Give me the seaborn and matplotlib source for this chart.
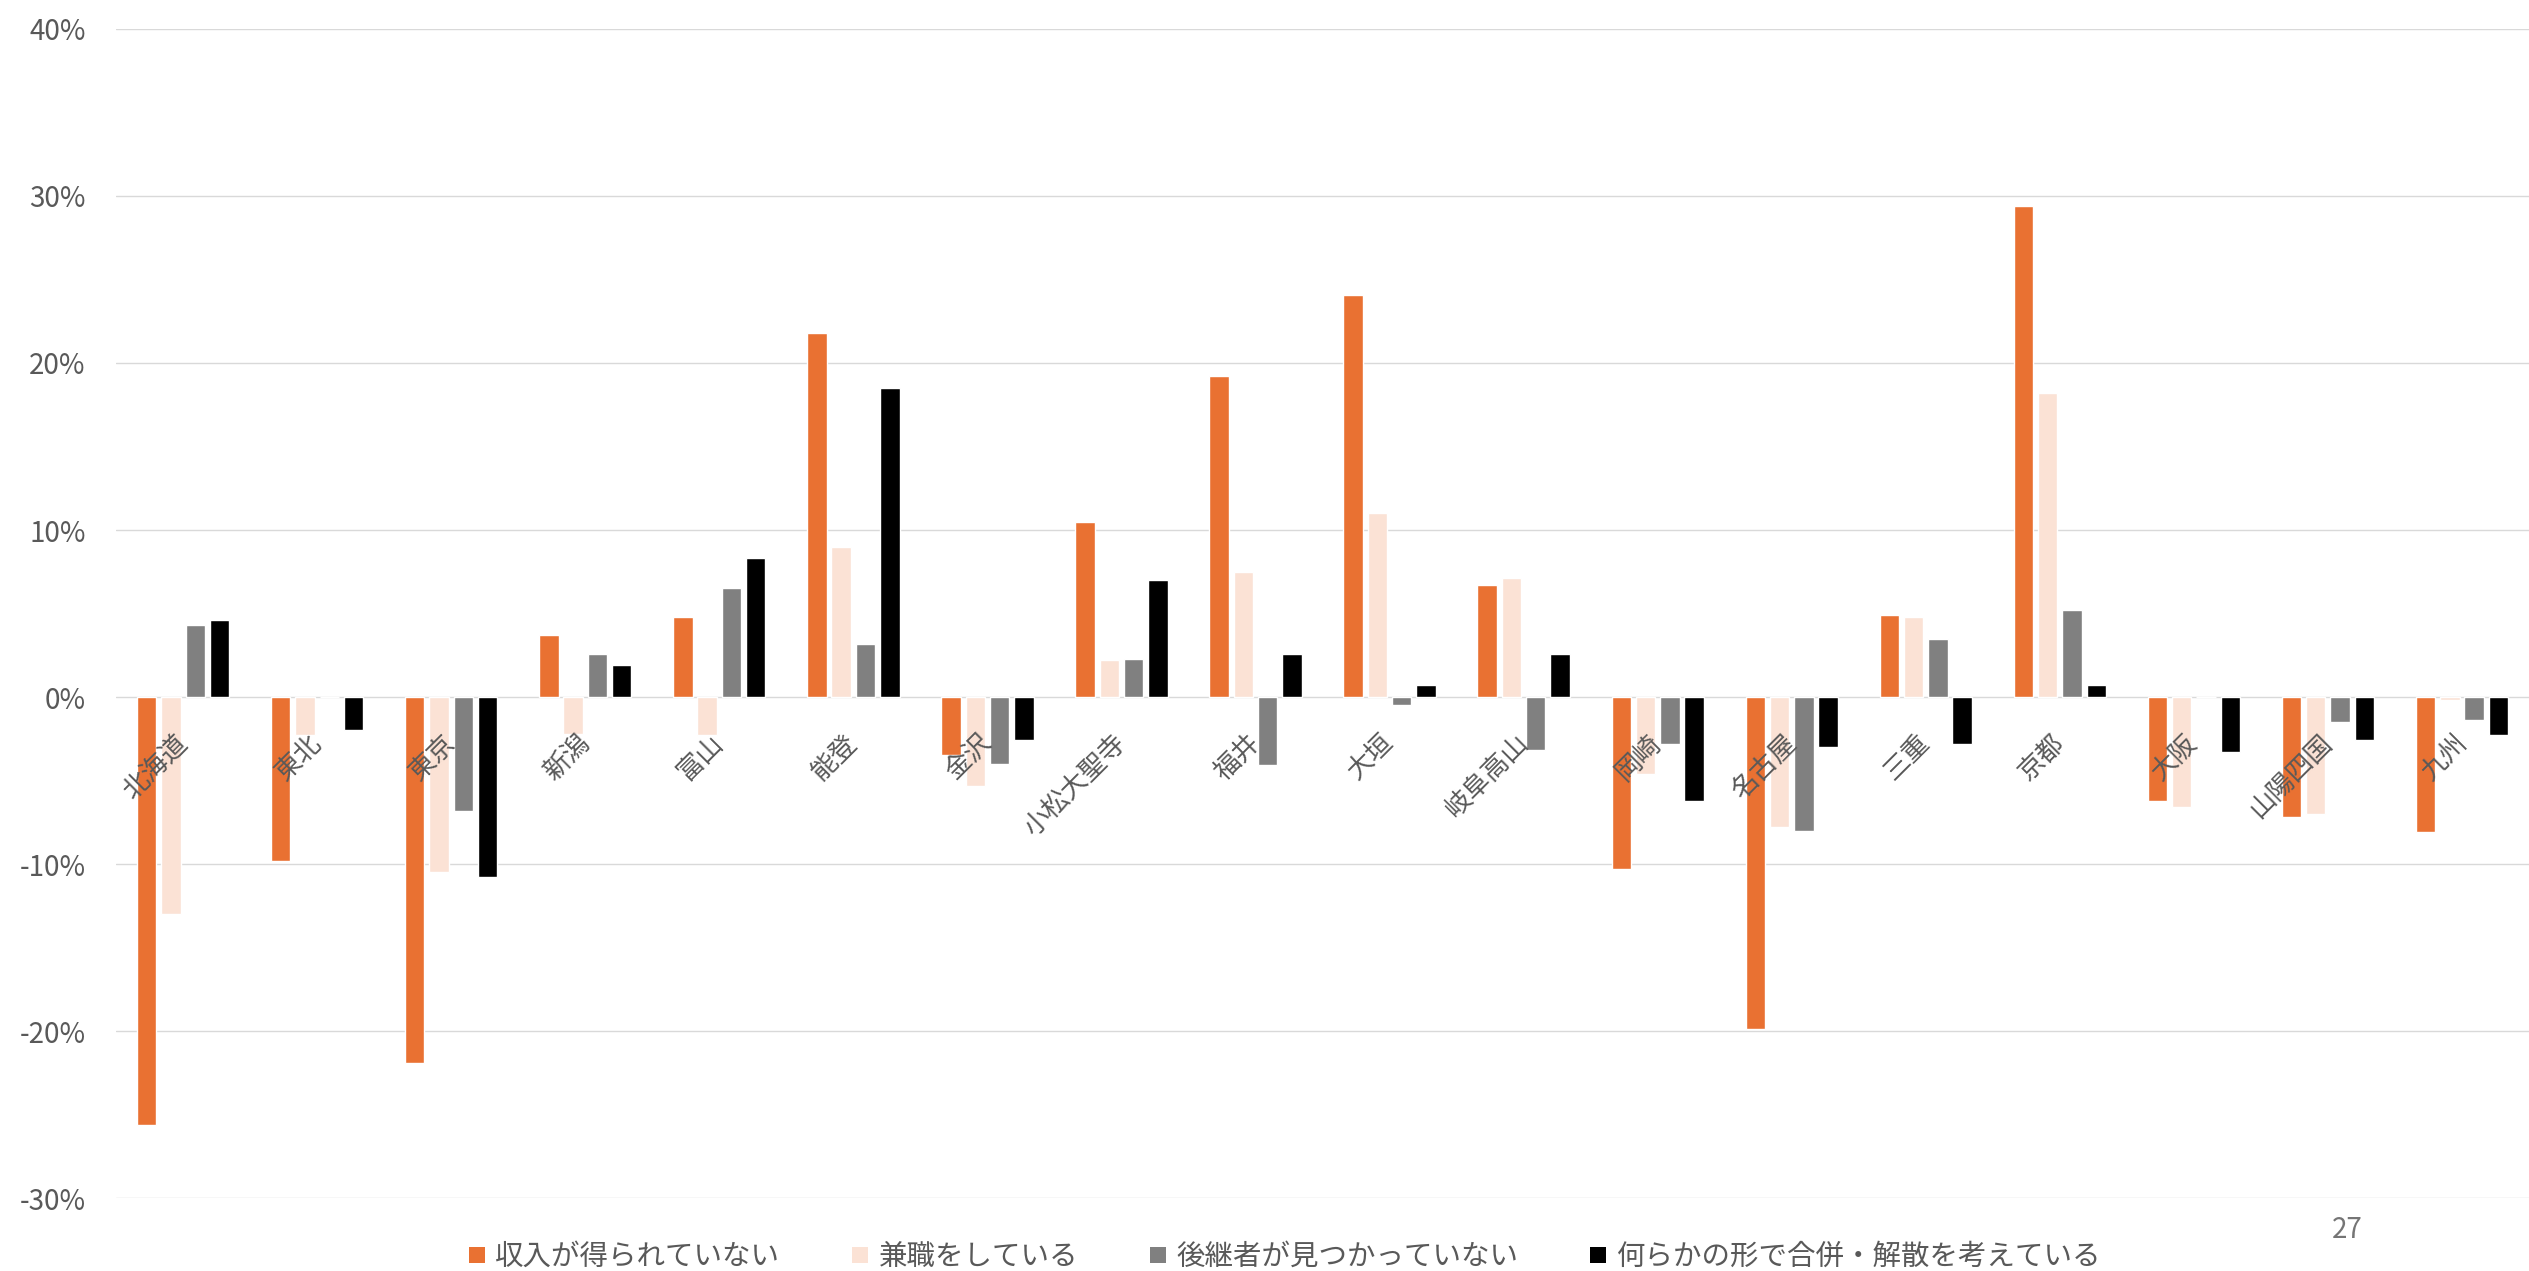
import matplotlib
matplotlib.use("Agg")
import pandas as pd
import numpy as np
import matplotlib.pyplot as plt
import seaborn as sns
from matplotlib.lines import Line2D
from matplotlib.ticker import FuncFormatter

# Data (percent)
regions = ["北海道", "東北", "東京", "新潟", "富山", "能登", "金沢", "小松大聖寺", "福井",
           "大垣", "岐阜高山", "岡崎", "名古屋", "三重", "京都", "大阪", "山陽四国", "九州"]
no_income = [-25.6, -9.8, -21.9, 3.7, 4.8, 21.8, -3.5, 10.5, 19.2,
             24.1, 6.7, -10.3, -19.9, 4.9, 29.4, -6.2, -7.2, -8.1]
side_job = [-13.0, -2.3, -10.5, -2.2, -2.3, 9.0, -5.3, 2.2, 7.5,
            11.0, 7.1, -4.6, -7.8, 4.8, 18.2, -6.6, -7.0, -0.2]
no_successor = [4.3, 0.0, -6.8, 2.6, 6.5, 3.2, -4.0, 2.3, -4.1,
                -0.5, -3.2, -2.8, -8.0, 3.5, 5.2, 0.0, -1.5, -1.4]
merge_dissolve = [4.6, -2.0, -10.8, 1.9, 8.3, 18.5, -2.6, 7.0, 2.6,
                  0.7, 2.6, -6.2, -3.0, -2.8, 0.7, -3.3, -2.6, -2.3]

series_names = ["収入が得られていない", "兼職をしている", "後継者が見つかっていない",
                "何らかの形で合併・解散を考えている"]
colors = ["#E97132", "#FBE2D5", "#808080", "#000000"]

# Long format for seaborn
df = pd.DataFrame({"region": regions,
                   series_names[0]: no_income,
                   series_names[1]: side_job,
                   series_names[2]: no_successor,
                   series_names[3]: merge_dissolve})
df = df.melt(id_vars="region", var_name="series", value_name="value")

sns.set_theme(style="white")
plt.rcParams['font.family'] = ['Noto Sans CJK JP', 'DejaVu Sans']

fig = plt.figure(figsize=(25.29, 12.71), dpi=100)
ax = fig.add_axes([0.0459, 0.0574, 0.9541, 0.9198])

sns.barplot(data=df, x="region", y="value", hue="series", hue_order=series_names,
            order=regions, palette=colors, saturation=1, width=0.725, gap=0.2,
            errorbar=None, legend=False, ax=ax)

ax.set_xlim(-0.5, len(regions) - 0.5)
ax.set_ylim(-30, 40)
ax.set_yticks(range(-30, 41, 10))
ax.yaxis.set_major_formatter(FuncFormatter(lambda v, p: f"{v:.0f}%"))
ax.grid(axis="y", color="#D9D9D9", linewidth=1.0)
ax.set_axisbelow(True)
# category labels sit on top of the bars, gridlines stay below
ax.xaxis.set_zorder(5)
for s in ax.spines.values():
    s.set_visible(False)
ax.spines["bottom"].set_position(("data", 0))

ax.set_xlabel("")
ax.set_ylabel("")
ax.tick_params(axis="x", length=0, pad=30, labelsize=19, labelcolor="#595959")
ax.tick_params(axis="y", length=0, pad=22, labelsize=20, labelcolor="#595959")
plt.setp(ax.get_xticklabels(), rotation=45, ha="right", va="center", rotation_mode="anchor")

# Legend below the plot
handles = [Line2D([], [], marker="s", linestyle="", markersize=11.5,
                  markerfacecolor=c, markeredgewidth=0) for c in colors]
fig.legend(handles, series_names, loc="center", bbox_to_anchor=(0.508, 0.011), ncol=4,
           frameon=False, fontsize=20.5, handlelength=0.6, handletextpad=0.35,
           columnspacing=2.5, labelcolor="#595959")

# page number
fig.text(0.928, 0.032, "27", ha="center", va="center", fontsize=20, color="#757575")

fig.savefig("out.png", dpi=100)
